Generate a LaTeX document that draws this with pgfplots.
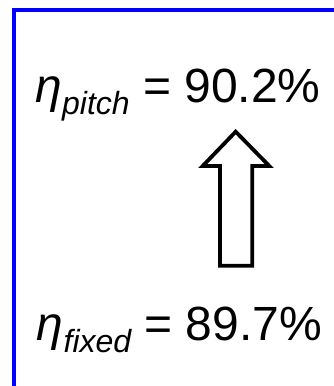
\documentclass[border=0pt]{standalone}
\usepackage{pgfplots}
\pgfplotsset{compat=1.18}
\usepackage{fontspec}
\setmainfont{Liberation Sans}
\definecolor{frameblue}{RGB}{0,0,255}
\begin{document}
\begin{tikzpicture}
\useasboundingbox (0,0) rectangle (333pt,386pt);
\begin{axis}[
  at={(13.7pt,-10pt)}, anchor=south west,
  scale only axis, width=326.3pt, height=385.7pt,
  xmin=13.7, xmax=340, ymin=-10, ymax=375.7,
  axis line style={draw=frameblue, line width=3.6pt},
  ticks=none, clip=false,
]
% hollow upward arrow
\addplot[draw=black, fill=white, line width=3.8pt, line join=miter, mark=none]
  coordinates {(220,120.3) (252.3,120.3) (252.3,220) (269.3,220) (235.7,254.3) (202.7,220) (220,220) (220,120.3)} -- cycle;
\node[anchor=base, inner sep=0pt] at (axis cs:178,283)
  {\fontsize{48pt}{50pt}\selectfont{\itshape η}\raisebox{-12pt}{\fontsize{32pt}{34pt}\selectfont\itshape pitch} = 90.2\%};
\node[anchor=base, inner sep=0pt] at (axis cs:179.5,46)
  {\fontsize{48pt}{50pt}\selectfont{\itshape η}\raisebox{-12pt}{\fontsize{32pt}{34pt}\selectfont\itshape fixed} = 89.7\%};
\end{axis}
\end{tikzpicture}
\end{document}
